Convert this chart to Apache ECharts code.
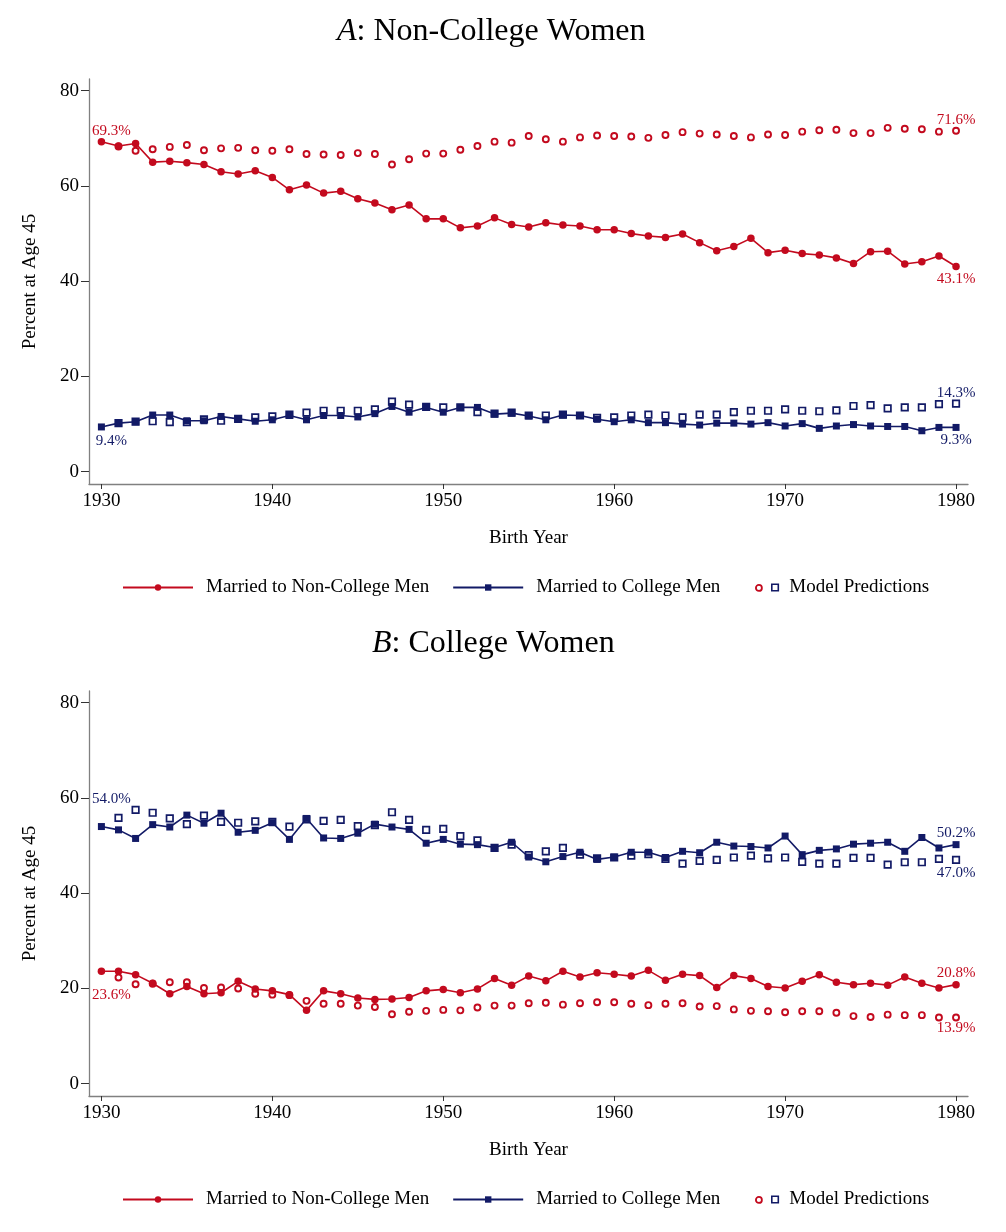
<!DOCTYPE html>
<html>
<head>
<meta charset="utf-8">
<script src="https://cdn.jsdelivr.net/npm/echarts@6/dist/echarts.min.js"></script>
<style>
  html, body { margin: 0; padding: 0; background: #fff; }
  #chart { width: 1006px; height: 1232px; }
</style>
</head>
<body>
<div id="chart"></div>
<script>
// ---------- data ----------
const years = [1930,1931,1932,1933,1934,1935,1936,1937,1938,1939,
               1940,1941,1942,1943,1944,1945,1946,1947,1948,1949,
               1950,1951,1952,1953,1954,1955,1956,1957,1958,1959,
               1960,1961,1962,1963,1964,1965,1966,1967,1968,1969,
               1970,1971,1972,1973,1974,1975,1976,1977,1978,1979,1980];
const modelYears = years.slice(1); // model predictions start in 1931

const xTicks = [1930, 1940, 1950, 1960, 1970, 1980];
const yTicks = [0, 20, 40, 60, 80];

// Panel A: Non-College Women
const A_nonCollegeMen = [69.3,68.4,68.9,65.0,65.2,64.9,64.5,63.0,62.5,63.2,
                         61.8,59.2,60.2,58.5,58.9,57.3,56.4,55.0,56.0,53.1,
                         53.1,51.2,51.6,53.3,51.9,51.4,52.3,51.8,51.6,50.8,
                         50.8,50.0,49.5,49.2,49.9,48.1,46.4,47.3,49.0,46.0,
                         46.5,45.8,45.5,44.9,43.7,46.2,46.3,43.6,44.1,45.3,43.1];
const A_collegeMen = [9.4,10.2,10.5,11.9,11.9,10.7,10.7,11.6,11.1,10.6,
                      10.9,11.8,10.9,11.8,11.8,11.5,12.2,13.7,12.5,13.5,
                      12.5,13.5,13.5,12.1,12.3,11.7,10.9,11.9,11.8,11.0,
                      10.5,10.9,10.3,10.3,10.0,9.8,10.2,10.2,10.0,10.3,
                      9.6,10.1,9.1,9.6,9.9,9.6,9.5,9.5,8.6,9.3,9.3];
const A_modelNonCollege = [68.3,67.4,67.7,68.2,68.6,67.5,67.9,68.0,67.5,67.4,
                           67.7,66.7,66.6,66.5,66.9,66.7,64.5,65.6,66.8,66.8,
                           67.6,68.4,69.3,69.1,70.5,69.8,69.3,70.2,70.6,70.5,
                           70.4,70.1,70.7,71.3,71.0,70.8,70.5,70.2,70.8,70.7,
                           71.4,71.7,71.8,71.1,71.1,72.2,72.0,71.9,71.4,71.6];
const A_modelCollege = [10.2,10.5,10.6,10.4,10.4,11.0,10.7,11.1,11.4,11.6,
                        12.0,12.4,12.8,12.8,12.8,13.1,14.7,14.1,13.6,13.5,
                        13.5,12.5,12.2,12.4,11.8,11.8,12.0,11.8,11.3,11.4,
                        11.8,12.0,11.8,11.4,12.0,12.0,12.5,12.8,12.8,13.1,
                        12.8,12.7,12.9,13.8,14.0,13.3,13.5,13.5,14.2,14.3];

// Panel B: College Women
const B_nonCollegeMen = [23.6,23.6,22.9,21.1,18.9,20.4,18.9,19.1,21.5,19.9,
                         19.5,18.7,15.4,19.5,18.9,18.0,17.7,17.8,18.1,19.5,
                         19.8,19.1,19.9,22.1,20.7,22.6,21.6,23.6,22.4,23.3,
                         23.0,22.6,23.8,21.7,23.0,22.7,20.2,22.7,22.1,20.4,
                         20.1,21.5,22.9,21.3,20.8,21.1,20.7,22.4,21.1,20.1,20.8];
const B_collegeMen = [54.0,53.3,51.5,54.4,53.9,56.4,54.7,56.8,52.8,53.2,
                      54.8,51.3,55.7,51.6,51.5,52.6,54.5,53.9,53.4,50.5,
                      51.3,50.3,50.2,49.6,50.7,47.6,46.6,47.7,48.6,47.1,
                      47.6,48.6,48.6,47.5,48.8,48.5,50.7,49.9,49.8,49.5,
                      52.0,48.1,49.0,49.3,50.3,50.5,50.7,48.8,51.7,49.5,50.2];
const B_modelNonCollege = [22.3,20.9,21.0,21.3,21.3,20.1,20.2,20.0,18.9,18.7,
                           18.6,17.4,16.8,16.8,16.4,16.1,14.6,15.1,15.3,15.5,
                           15.4,16.0,16.4,16.4,16.9,17.0,16.6,16.9,17.1,17.1,
                           16.8,16.5,16.8,16.9,16.2,16.3,15.6,15.3,15.2,15.0,
                           15.2,15.2,14.9,14.2,14.0,14.5,14.4,14.4,13.9,13.9];
const B_modelCollege = [55.8,57.5,56.9,55.7,54.5,56.3,55.0,54.8,55.1,55.0,
                        54.0,55.5,55.2,55.4,54.1,54.3,57.0,55.4,53.3,53.5,
                        52.0,51.1,49.5,50.2,48.0,48.8,49.5,48.1,47.3,47.5,
                        47.9,48.2,47.2,46.2,46.8,47.0,47.5,47.9,47.3,47.5,
                        46.6,46.2,46.2,47.4,47.4,46.0,46.5,46.5,47.2,47.0];

const seriesNames = {
  nonCollege: 'Married to Non-College Men',
  college: 'Married to College Men',
  modelNonCollege: 'Model (Non-College Men)',
  modelCollege: 'Model (College Men)'
};

// ---------- styling ----------
const RED = '#c30a1e';
const NAVY = '#121a66';
const FONT = "'Liberation Serif', 'Times New Roman', serif";

function pairs(xs, ys, labels) {
  return ys.map((v, i) => {
    const item = { value: [xs[i], v] };
    if (labels && labels[i] !== undefined) {
      item.label = {
        show: true,
        position: 'inside',
        offset: labels[i],
        formatter: p => p.value[1].toFixed(1) + '%'
      };
    }
    return item;
  });
}

const gridTop = [79, 691];
const gridH = 405;

function panelSeries(k, d, lbl) {
  return [
    {
      name: seriesNames.modelNonCollege, type: 'scatter', xAxisIndex: k, yAxisIndex: k, z: 2,
      symbol: 'circle', symbolSize: 6,
      itemStyle: { color: '#fff', borderColor: RED, borderWidth: 1.9, opacity: 1 },
      label: { show: false, color: RED, fontFamily: FONT, fontSize: 15 },
      emphasis: { disabled: true },
      data: pairs(modelYears, d.modelNonCollege, lbl.modelNonCollege)
    },
    {
      name: seriesNames.modelCollege, type: 'scatter', xAxisIndex: k, yAxisIndex: k, z: 2,
      symbol: 'rect', symbolSize: 6.5,
      itemStyle: { color: '#fff', borderColor: NAVY, borderWidth: 1.7, opacity: 1 },
      label: { show: false, color: NAVY, fontFamily: FONT, fontSize: 15 },
      emphasis: { disabled: true },
      data: pairs(modelYears, d.modelCollege, lbl.modelCollege)
    },
    {
      name: seriesNames.nonCollege, type: 'line', xAxisIndex: k, yAxisIndex: k, z: 3,
      symbol: 'circle', symbolSize: 7.5, showAllSymbol: true,
      lineStyle: { color: RED, width: 1.6 },
      itemStyle: { color: RED },
      label: { show: false, color: RED, fontFamily: FONT, fontSize: 15 },
      emphasis: { disabled: true },
      data: pairs(years, d.nonCollege, lbl.nonCollege)
    },
    {
      name: seriesNames.college, type: 'line', xAxisIndex: k, yAxisIndex: k, z: 3,
      symbol: 'rect', symbolSize: 7, showAllSymbol: true,
      lineStyle: { color: NAVY, width: 1.6 },
      itemStyle: { color: NAVY },
      label: { show: false, color: NAVY, fontFamily: FONT, fontSize: 15 },
      emphasis: { disabled: true },
      data: pairs(years, d.college, lbl.college)
    }
  ];
}

const last = years.length - 1;
const lastM = modelYears.length - 1;

const series = [].concat(
  panelSeries(0,
    { nonCollege: A_nonCollegeMen, college: A_collegeMen, modelNonCollege: A_modelNonCollege, modelCollege: A_modelCollege },
    {
      nonCollege: { 0: [10, -11], [last]: [0, 13] },
      college: { 0: [10, 14], [last]: [0, 13] },
      modelNonCollege: { [lastM]: [0, -11] },
      modelCollege: { [lastM]: [0, -11] }
    }),
  panelSeries(1,
    { nonCollege: B_nonCollegeMen, college: B_collegeMen, modelNonCollege: B_modelNonCollege, modelCollege: B_modelCollege },
    {
      nonCollege: { 0: [10, 24], [last]: [0, -12] },
      college: { 0: [10, -27], [last]: [0, -12] },
      modelNonCollege: { [lastM]: [0, 11] },
      modelCollege: { [lastM]: [0, 13] }
    })
);

function xAxisFor(k) {
  return {
    type: 'value', gridIndex: k,
    min: 1929.274, max: 1980.70,
    name: 'Birth Year', nameLocation: 'middle', nameGap: 45,
    nameTextStyle: { fontFamily: FONT, fontSize: 19, color: '#000' },
    axisLine: { show: true, onZero: false, lineStyle: { color: '#808080', width: 1.3 } },
    axisTick: { show: true, length: 5, customValues: xTicks, lineStyle: { color: '#333', width: 1 } },
    axisLabel: { show: true, customValues: xTicks, margin: 8, fontFamily: FONT, fontSize: 19, color: '#000',
                 formatter: v => String(v) },
    splitLine: { show: false }
  };
}
function yAxisFor(k) {
  return {
    type: 'value', gridIndex: k,
    min: -2.58, max: 82.46,
    name: 'Percent at Age 45', nameLocation: 'middle', nameGap: 49, nameRotate: 90,
    nameTextStyle: { fontFamily: FONT, fontSize: 19, color: '#000' },
    axisLine: { show: true, onZero: false, lineStyle: { color: '#808080', width: 1.3 } },
    axisTick: { show: true, length: 8, customValues: yTicks, lineStyle: { color: '#333', width: 1 } },
    axisLabel: { show: true, customValues: yTicks, margin: 10, fontFamily: FONT, fontSize: 19, color: '#000',
                 formatter: v => String(v) },
    splitLine: { show: false }
  };
}

function legendsFor(top) {
  return [
    {
      left: 117, top: top, orient: 'horizontal',
      itemWidth: 70, itemHeight: 8, itemGap: 23,
      selectedMode: false,
      textStyle: { fontFamily: FONT, fontSize: 19, color: '#000', padding: [0, 0, 0, 8] },
      data: [seriesNames.nonCollege, seriesNames.college]
    },
    {
      left: 750, top: top + 6, itemWidth: 6, itemHeight: 6, selectedMode: false,
      formatter: () => '',
      data: [{ name: seriesNames.modelNonCollege, icon: 'circle',
               itemStyle: { color: '#fff', borderColor: RED, borderWidth: 1.8, opacity: 1 } }]
    },
    {
      left: 766, top: top, itemWidth: 6.5, itemHeight: 6.5, selectedMode: false,
      formatter: () => 'Model Predictions',
      textStyle: { fontFamily: FONT, fontSize: 19, color: '#000', padding: [0, 0, 0, 6] },
      data: [{ name: seriesNames.modelCollege, icon: 'rect',
               itemStyle: { color: '#fff', borderColor: NAVY, borderWidth: 1.6, opacity: 1 } }]
    }
  ];
}

function titleFor(text, top, left) {
  return {
    text: text, left: left, top: top,
    textStyle: {
      fontFamily: FONT, fontSize: 32, fontWeight: 'normal', color: '#000',
      rich: { i: { fontStyle: 'italic', fontFamily: FONT, fontSize: 32, color: '#000' },
              n: { fontFamily: FONT, fontSize: 32, color: '#000' } }
    }
  };
}

const option = {
  backgroundColor: '#fff',
  animation: false,
  title: [
    titleFor('{i|A}{n|: Non-College Women}', 11, 332),
    titleFor('{i|B}{n|: College Women}', 623, 367)
  ],
  grid: [
    { left: 89, top: gridTop[0], width: 879, height: gridH, containLabel: false, outerBoundsMode: 'none' },
    { left: 89, top: gridTop[1], width: 879, height: gridH, containLabel: false, outerBoundsMode: 'none' }
  ],
  xAxis: [xAxisFor(0), xAxisFor(1)],
  yAxis: [yAxisFor(0), yAxisFor(1)],
  legend: [].concat(legendsFor(573), legendsFor(1185)),
  tooltip: { show: false },
  series: series
};

const chart = echarts.init(document.getElementById('chart'), null, { renderer: 'canvas' });
chart.setOption(option);
</script>
</body>
</html>
